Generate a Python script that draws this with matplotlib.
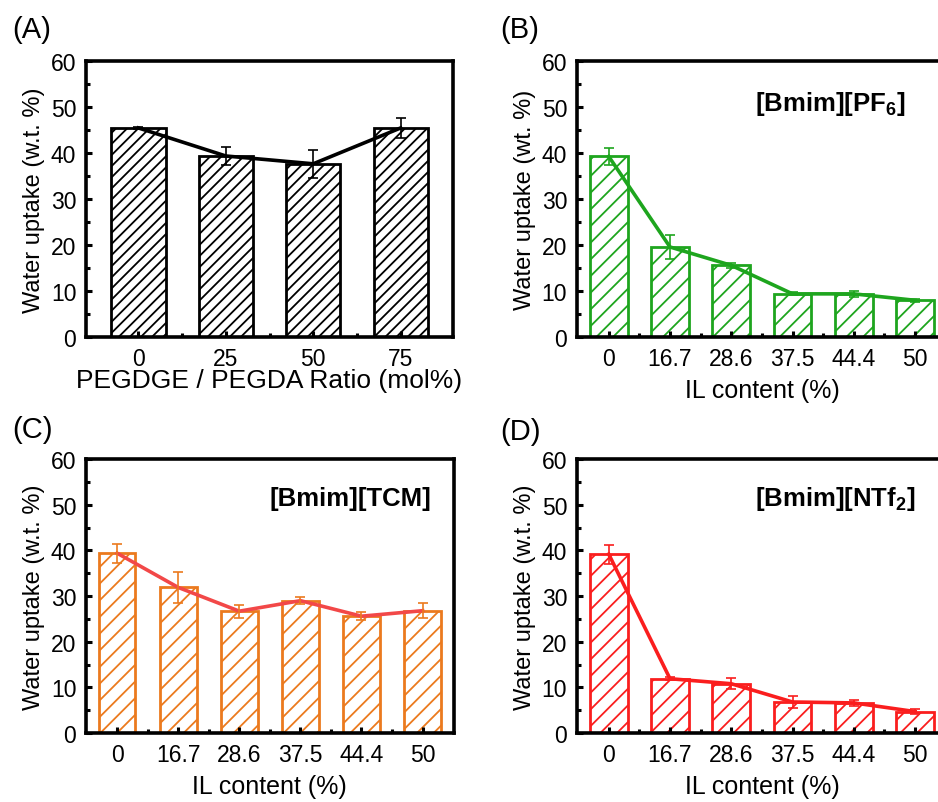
import numpy as np
import matplotlib
matplotlib.use("Agg")
import matplotlib.pyplot as plt
from matplotlib.ticker import MultipleLocator, FixedLocator

plt.rcParams.update({
    'font.family': ['Liberation Sans', 'DejaVu Sans'],
    'mathtext.fontset': 'custom',
    'mathtext.bf': 'Liberation Sans:bold',
    'mathtext.rm': 'Liberation Sans',
    'hatch.linewidth': 1.3,
})

# (A) PEGDGE / PEGDA ratio series
ratio_labels = ['0', '25', '50', '75']
ratio_uptake = [45.5, 39.4, 37.7, 45.5]
ratio_err = [0.3, 1.9, 3.0, 2.1]

# (B)-(D) IL content series
il_labels = ['0', '16.7', '28.6', '37.5', '44.4', '50']
pf6_uptake = [39.3, 19.6, 15.6, 9.4, 9.4, 8.0]
pf6_err = [1.9, 2.6, 0.5, 0.3, 0.7, 0.3]
tcm_uptake = [39.4, 31.9, 26.7, 29.0, 25.6, 26.8]
tcm_err = [2.1, 3.3, 1.45, 0.7, 0.9, 1.6]
ntf2_uptake = [39.2, 11.9, 10.8, 6.8, 6.6, 4.7]
ntf2_err = [2.1, 0.3, 1.15, 1.25, 0.7, 0.5]


def draw_panel(ax, labels, values, errs, bar_color, line_color, width, pad,
               ylabel, hatch='//'):
    x = np.arange(len(labels))
    ax.bar(x, values, width=width, color='white', edgecolor=bar_color,
           linewidth=2.0, hatch=hatch, zorder=1)
    ax.errorbar(x, values, yerr=errs, fmt='none', ecolor=bar_color,
                elinewidth=1.2, capsize=3.5, capthick=1.2, zorder=3)
    ax.plot(x, values, color=line_color, linewidth=2.6, zorder=2)
    ax.set_xlim(-pad, len(labels) - 1 + pad)
    ax.set_ylim(0, 60)
    ax.set_xticks(x)
    ax.set_xticklabels(labels)
    ax.xaxis.set_minor_locator(FixedLocator(x[:-1] + 0.5))
    ax.yaxis.set_major_locator(MultipleLocator(10))
    ax.yaxis.set_minor_locator(MultipleLocator(5))
    ax.tick_params(which='major', direction='in', length=4, width=2.2,
                   labelsize=16.5, pad=7)
    ax.tick_params(which='minor', direction='in', length=3, width=2.2)
    ax.tick_params(axis='y', which='both', right=False)
    ax.tick_params(axis='x', which='both', top=False)
    for sp in ax.spines.values():
        sp.set_linewidth(2.6)
    ax.set_ylabel(ylabel, fontsize=17, labelpad=4)


fig = plt.figure(figsize=(9.38, 8.03), dpi=100)

ax_a = fig.add_axes([0.0917, 0.579, 0.3913, 0.3434])
draw_panel(ax_a, ratio_labels, ratio_uptake, ratio_err, 'black', 'black',
           0.62, 0.6, 'Water uptake (w.t. %)', hatch='///')
ax_a.set_xlabel('PEGDGE / PEGDA Ratio (mol%)', fontsize=19, labelpad=-1)

ax_b = fig.add_axes([0.615, 0.579, 0.3945, 0.3434])
draw_panel(ax_b, il_labels, pf6_uptake, pf6_err, '#1ea51e', '#1ea51e',
           0.615, 0.52, 'Water uptake (wt. %)')
ax_b.set_xlabel('IL content (%)', fontsize=18, labelpad=6)
ax_b.text(0.685, 0.85, r'[Bmim][PF$_\mathbf{6}$]', transform=ax_b.transAxes,
          fontsize=18.5, fontweight='bold', ha='center', va='center')

ax_c = fig.add_axes([0.0917, 0.0859, 0.392, 0.341])
draw_panel(ax_c, il_labels, tcm_uptake, tcm_err, '#eb7a1e', '#f24848',
           0.6, 0.51, 'Water uptake (w.t. %)')
ax_c.set_xlabel('IL content (%)', fontsize=18, labelpad=6)
ax_c.text(0.718, 0.86, '[Bmim][TCM]', transform=ax_c.transAxes,
          fontsize=18.5, fontweight='bold', ha='center', va='center')

ax_d = fig.add_axes([0.615, 0.0859, 0.3945, 0.341])
draw_panel(ax_d, il_labels, ntf2_uptake, ntf2_err, '#fa1e1e', '#fa1e1e',
           0.615, 0.52, 'Water uptake (w.t. %)')
ax_d.set_xlabel('IL content (%)', fontsize=18, labelpad=6)
ax_d.text(0.697, 0.86, r'[Bmim][NTf$_\mathbf{2}$]', transform=ax_d.transAxes,
          fontsize=18.5, fontweight='bold', ha='center', va='center')

for lbl, (px, py) in zip(['(A)', '(B)', '(C)', '(D)'],
                         [(12, 30), (500, 30), (12, 430), (500, 432)]):
    fig.text(px / 938, 1 - py / 803, lbl, fontsize=21, ha='left', va='center')

fig.savefig('out.png', dpi=100)
